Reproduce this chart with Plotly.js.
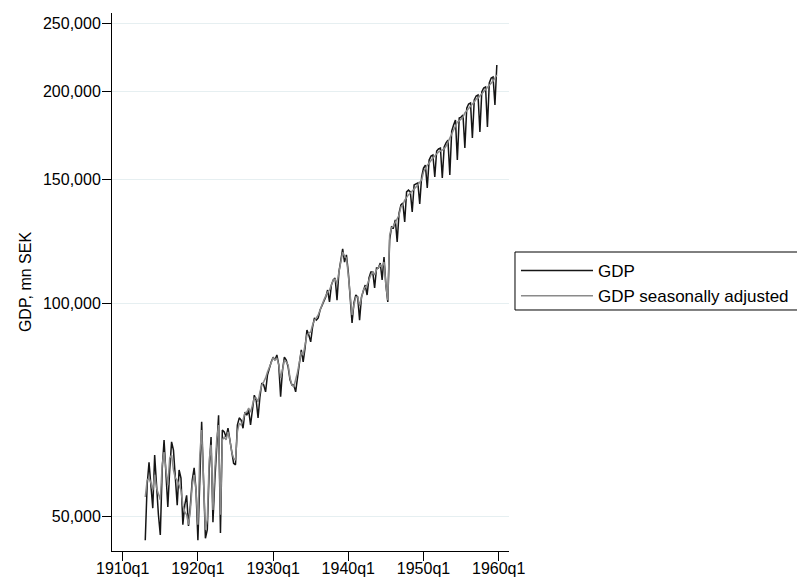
<!DOCTYPE html>
<html>
<head>
<meta charset="utf-8">
<script src="https://cdn.plot.ly/plotly-3.0.1.min.js"></script>
<style>
  html, body { margin: 0; padding: 0; background: #ffffff; overflow: hidden; }
  #chart { width: 797px; height: 580px; }
</style>
</head>
<body>
<div id="chart"></div>
<script>
// Swedish quarterly GDP, million SEK, 1913q1 - 1959q4
const startYear = 1913;

// GDP, one row per year (q1..q4)
const gdp = [
  46200, 55300, 59600, 54400,
  51300, 61000, 54400, 50200,
  47000, 58100, 64100, 56200,
  51500, 58100, 63700, 62000,
  56200, 51800, 58100, 56600,
  48600, 51800, 53500, 48400,
  51800, 56200, 58500, 54400,
  46200, 58100, 68000, 56200,
  46500, 47800, 58100, 64700,
  49000, 56200, 64100, 69500,
  47300, 66200, 65800, 64700,
  66600, 64100, 62000, 59400,
  59100, 67300, 68900, 68400,
  66600, 70200, 69500, 70700,
  67300, 70700, 74200, 73000,
  68900, 73800, 77200, 76700,
  75000, 79200, 81300, 82700,
  84000, 83200, 84600, 81900,
  73800, 80500, 84000, 83200,
  81300, 78000, 76700, 76700,
  75000, 79200, 82400, 86000,
  82700, 86600, 91800, 90300,
  88300, 92700, 95500, 94800,
  95500, 98000, 99600, 101200,
  102200, 104600, 100600, 106300,
  108100, 108800, 101200, 110900,
  114600, 119600, 114600, 117300,
  110900, 101200, 93900, 100300,
  102900, 102200, 94800, 102200,
  104600, 106300, 102900, 108800,
  110900, 110900, 105300, 112400,
  112400, 114200, 108100, 116500,
  106300, 100600, 123200, 128500,
  128100, 131500, 122400, 134500,
  138100, 139000, 130600, 144100,
  145000, 144100, 135000, 147400,
  147900, 148400, 138500, 151300,
  155800, 157300, 146000, 159900,
  162000, 162600, 151300, 164700,
  165800, 166300, 150800, 166900,
  169100, 170700, 152300, 175800,
  179300, 182300, 159900, 183400,
  184000, 185300, 166300, 189500,
  192000, 192700, 171800, 194600,
  197100, 197800, 175200, 199700,
  202300, 203000, 178100, 205700,
  209000, 209700, 191400, 218100
];

// GDP seasonally adjusted, one row per year (q1..q4)
const gdpSA = [
  53200, 56200, 56600, 55700,
  54400, 57200, 54800, 53500,
  52700, 59100, 61600, 58100,
  55300, 60400, 61000, 58100,
  56600, 56200, 55300, 54400,
  51800, 50700, 50200, 48600,
  51000, 55300, 57200, 54400,
  48600, 61000, 66200, 54400,
  47800, 49400, 60000, 63100,
  51000, 58100, 64100, 67300,
  50200, 64100, 64700, 64100,
  65800, 64100, 61600, 60400,
  60000, 65800, 67700, 67300,
  68400, 70000, 70200, 71100,
  70200, 71800, 73500, 73500,
  72600, 75000, 76700, 77500,
  78500, 80000, 81100, 82700,
  83800, 83200, 83800, 81900,
  78500, 80500, 83200, 82700,
  81900, 78500, 76700, 76200,
  78000, 80000, 82700, 85400,
  84600, 87400, 90300, 90900,
  91200, 93300, 94800, 95500,
  96400, 98000, 99900, 101200,
  102600, 103900, 104600, 106300,
  108100, 108400, 106700, 110900,
  114600, 118400, 116900, 116100,
  109900, 101900, 96400, 99600,
  102200, 102200, 99300, 101900,
  104600, 105600, 106300, 108100,
  109900, 110900, 109900, 111700,
  112400, 113500, 113100, 114600,
  106300, 101200, 125200, 128100,
  128900, 130600, 132300, 133600,
  137200, 138100, 140300, 141700,
  142700, 143600, 144500, 145500,
  146400, 147400, 148800, 149800,
  153800, 155800, 157300, 158400,
  159900, 161000, 162000, 163100,
  164200, 164700, 165200, 165800,
  167400, 169600, 171800, 174100,
  176400, 179300, 181100, 181700,
  182800, 184000, 186500, 187700,
  189500, 190800, 192000, 193300,
  195200, 195800, 197100, 198400,
  199700, 201000, 202300, 203700,
  205700, 207000, 209000, 211100
];

const seriesNames = ['GDP', 'GDP seasonally adjusted'];

// axis ticks
const xTickYears = [1910, 1920, 1930, 1940, 1950, 1960];
const xTickText = ['1910q1', '1920q1', '1930q1', '1940q1', '1950q1', '1960q1'];
const yTickVals = [50000, 100000, 150000, 200000, 250000];
const yTickText = ['50,000', '100,000', '150,000', '200,000', '250,000'];

// quarterly time axis (year + quarter fraction) and its labels
const t = gdp.map((_, i) => startYear + i / 4);
const tLabel = gdp.map((_, i) => (startYear + Math.floor(i / 4)) + 'q' + (i % 4 + 1));

const FONT = 'Liberation Sans, Arial, Helvetica, sans-serif';

const traces = [
  {
    x: t, y: gdp, text: tLabel, name: seriesNames[0],
    type: 'scatter', mode: 'lines', legendgroup: 'g1',
    line: { color: '#151515', width: 1.5 },
    hovertemplate: '%{text}: %{y:,}<extra></extra>'
  },
  {
    x: t, y: gdpSA, text: tLabel, name: seriesNames[1],
    type: 'scatter', mode: 'lines', legendgroup: 'g2',
    line: { color: '#8a8a8a', width: 1.5 },
    hovertemplate: '%{text}: %{y:,}<extra></extra>'
  }
];

const layout = {
  width: 797,
  height: 580,
  margin: { l: 112, r: 288, t: 13, b: 29, pad: 0, autoexpand: false },
  paper_bgcolor: '#ffffff',
  plot_bgcolor: '#ffffff',
  font: { family: FONT, size: 16, color: '#000000' },
  showlegend: true,
  legend: {
    x: 1.0176, xanchor: 'left',
    y: 0.5539, yanchor: 'top',
    bgcolor: 'rgba(0,0,0,0)',
    borderwidth: 0,
    itemwidth: 72,
    tracegroupgap: 0,
    font: { family: FONT, size: 17, color: '#000000' }
  },
  // legend frame, running on past the right edge of the page
  shapes: [{
    type: 'rect', xref: 'paper', yref: 'paper', layer: 'above',
    x0: 1.0151, x1: 1.76, y0: 0.44796, y1: 0.55576,
    line: { color: '#000000', width: 1 },
    fillcolor: '#ffffff'
  }],
  xaxis: {
    range: [1908.577, 1961.370],
    tickmode: 'array',
    tickvals: xTickYears,
    ticktext: xTickText,
    ticks: 'outside', ticklen: 9, tickwidth: 1, tickcolor: '#000000',
    ticklabelstandoff: -6,
    showline: true, linecolor: '#000000', linewidth: 1,
    showgrid: false, zeroline: false,
    tickfont: { family: FONT, size: 16, color: '#000000' }
  },
  yaxis: {
    type: 'log',
    range: [4.64932, 5.41245],
    tickmode: 'array',
    tickvals: yTickVals,
    ticktext: yTickText,
    ticks: 'outside', ticklen: 9, tickwidth: 1, tickcolor: '#000000',
    ticklabelstandoff: -2,
    showline: true, linecolor: '#000000', linewidth: 1,
    showgrid: true, gridcolor: '#e6eff1', gridwidth: 1,
    zeroline: false,
    tickfont: { family: FONT, size: 16, color: '#000000' },
    title: { text: 'GDP, mn SEK', standoff: 7, font: { family: FONT, size: 16, color: '#000000' } }
  }
};

Plotly.newPlot('chart', traces, layout, { displayModeBar: false, staticPlot: true });
</script>
</body>
</html>
